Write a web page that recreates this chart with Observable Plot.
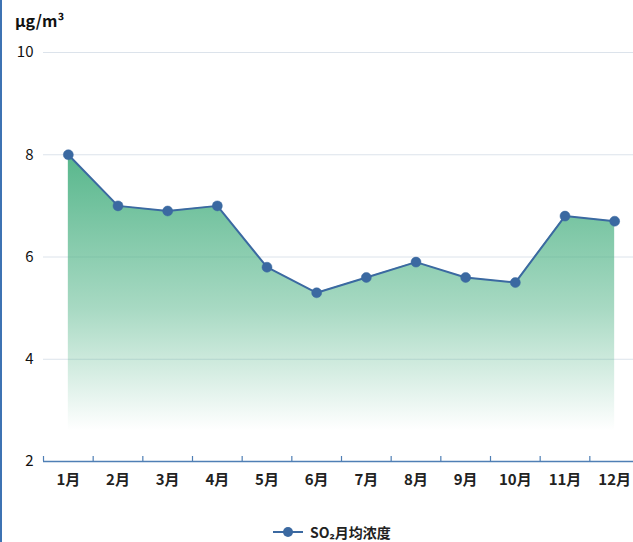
<!DOCTYPE html>
<html><head><meta charset="utf-8">
<script src="https://cdn.jsdelivr.net/npm/d3@7"></script>
<script src="https://cdn.jsdelivr.net/npm/@observablehq/plot@0.6"></script>
<style>
html,body{margin:0;padding:0;background:#fff;overflow:hidden;}
body{width:633px;height:542px;position:relative;font-family:"Noto Sans CJK SC","Noto Sans",sans-serif;}
#border{position:absolute;left:0;top:0;width:2px;height:542px;background:#3d73b3;}
#unit{position:absolute;left:15px;top:8px;font-size:16px;font-weight:bold;color:#111;}
#chart{position:absolute;left:0;top:0;width:639px;}
#chart svg{max-width:none !important;}
#legend{position:absolute;left:272px;top:522px;display:flex;align-items:center;font-size:14px;font-weight:bold;color:#222;}
</style></head>
<body>
<div id="border"></div>
<div id="chart"></div>
<div id="unit">μg/m³</div>
<div id="legend"><svg width="34" height="20"><line x1="1" y1="10" x2="31" y2="10" stroke="#3b69a1" stroke-width="2"/><circle cx="16" cy="10" r="5" fill="#3b69a1"/></svg><span style="margin-left:4px">SO₂月均浓度</span></div>
<script>
const months = ["1月","2月","3月","4月","5月","6月","7月","8月","9月","10月","11月","12月"];
const values = [8, 7, 6.9, 7, 5.8, 5.3, 5.6, 5.9, 5.6, 5.5, 6.8, 6.7];
const yTicks = [2, 4, 6, 8, 10];

const data = months.map((m, i) => ({m, i: i + 0.5, v: values[i]}));
const boundaries = d3.range(0, 12);
const lineColor = "#3b69a1";

const plot = Plot.plot({
  width: 639,
  height: 500,
  marginLeft: 43,
  marginRight: 0,
  marginTop: 52,
  marginBottom: 39,
  style: {fontFamily: '"Noto Sans CJK SC","Noto Sans",sans-serif', background: "transparent", overflow: "visible", maxWidth: "none"},
  x: {type: "linear", domain: [0, 12]},
  y: {domain: [2, 10]},
  marks: [
    Plot.ruleY(yTicks.filter(d => d > 2), {stroke: "#dce3eb", strokeWidth: 1}),
    Plot.areaY(data, {x: "i", y1: 2, y2: "v", fill: "url(#so2grad)"}),
    Plot.ruleY([2], {stroke: "#4f7fb5", strokeWidth: 1.5}),
    Plot.ruleX(boundaries, {x: d => d, y1: 2, y2: 2, insetTop: -5, stroke: "#4f7fb5", strokeWidth: 1.2}),
    Plot.axisY({ticks: yTicks, tickSize: 0, tickPadding: 10, fontSize: 15, label: null, color: "#111"}),
    Plot.axisX({ticks: data.map(d => d.i), tickFormat: d => months[Math.floor(d)], tickSize: 0, tickPadding: 13, fontSize: 15, label: null, color: "#222"}),
    Plot.line(data, {x: "i", y: "v", stroke: lineColor, strokeWidth: 2}),
    Plot.dot(data, {x: "i", y: "v", r: 5, fill: lineColor, stroke: lineColor, strokeWidth: 0.5})
  ]
});

const svg = d3.select(plot);
const defs = svg.insert("defs", ":first-child");
const g = defs.append("linearGradient").attr("id", "so2grad").attr("x1", 0).attr("y1", 0).attr("x2", 0).attr("y2", 1);
g.append("stop").attr("offset", "0%").attr("stop-color", "#4fb386").attr("stop-opacity", 0.95);
g.append("stop").attr("offset", "50%").attr("stop-color", "#4fb386").attr("stop-opacity", 0.5);
g.append("stop").attr("offset", "90%").attr("stop-color", "#4fb386").attr("stop-opacity", 0);
g.append("stop").attr("offset", "100%").attr("stop-color", "#4fb386").attr("stop-opacity", 0);
svg.selectAll("[aria-label='x-axis tick label']").attr("font-weight", "bold");
document.getElementById("chart").appendChild(plot);
</script>
</body></html>
